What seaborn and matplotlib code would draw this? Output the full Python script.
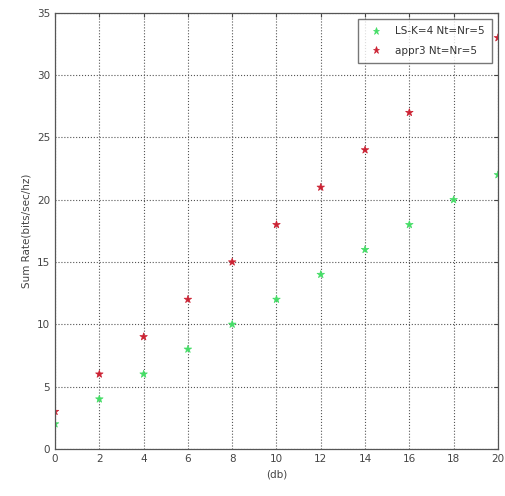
import numpy as np
import pandas as pd
import matplotlib
matplotlib.use("Agg")
import matplotlib.pyplot as plt
import seaborn as sns

# data
snr_ls = [0, 2, 4, 6, 8, 10, 12, 14, 16, 18, 20]
rate_ls = [2, 4, 6, 8, 10, 12, 14, 16, 18, 20, 22]
snr_appr3 = [0, 2, 4, 6, 8, 10, 12, 14, 16, 20]
rate_appr3 = [3, 6, 9, 12, 15, 18, 21, 24, 27, 33]
labels = ["LS-K=4 Nt=Nr=5", "appr3 Nt=Nr=5"]
colors = ["#44dd66", "#cc2233"]

df = pd.DataFrame({
    "snr": snr_ls + snr_appr3,
    "rate": rate_ls + rate_appr3,
    "series": [labels[0]] * len(snr_ls) + [labels[1]] * len(snr_appr3),
})

sns.set_style("white")
plt.rcParams['font.family'] = ['DejaVu Sans']

fig = plt.figure(figsize=(5.05, 4.96), dpi=100)
ax = fig.add_axes([0.109, 0.095, 0.877, 0.879])

sns.scatterplot(
    data=df,
    x="snr",
    y="rate",
    hue="series",
    palette=dict(zip(labels, colors)),
    marker="*",
    s=32,
    linewidth=0.5,
    edgecolor=None,
    ax=ax
)

ax.set_xlim(0, 20)
ax.set_ylim(0, 35)
ax.set_xticks(np.arange(0, 21, 2))
ax.set_yticks(np.arange(0, 36, 5))
ax.grid(True, linestyle=":", color="#555555", linewidth=0.8)
ax.tick_params(labelsize=7.5, colors="#444444", direction="in", length=3,
               top=True, right=True)
for s in ax.spines.values():
    s.set_color("#555555")
    s.set_linewidth(0.9)

ax.set_xlabel("(db)", fontsize=7.5, color="#444444")
ax.set_ylabel("Sum Rate(bits/sec/hz)", fontsize=7.5, color="#444444")

leg = ax.legend(loc="upper right", fontsize=7.5, frameon=True, fancybox=False,
                edgecolor="#555555", borderaxespad=0.6, handletextpad=0.8,
                markerscale=0.9, borderpad=0.7, labelspacing=0.9)
for t in leg.get_texts():
    t.set_color("#333333")

fig.savefig("out.png", dpi=100)
